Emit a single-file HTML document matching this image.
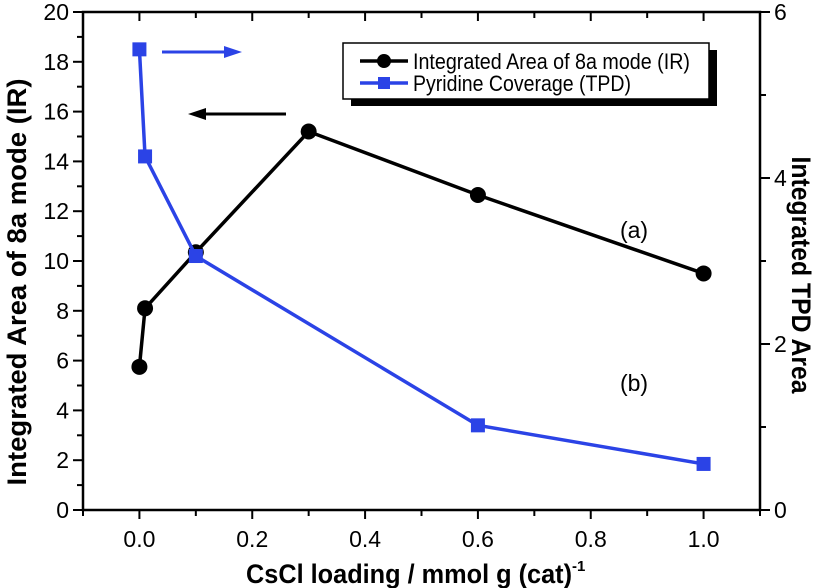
<!DOCTYPE html>
<html><head><meta charset="utf-8"><style>
body{margin:0;background:#fff}
svg{display:block;font-family:"Liberation Sans Narrow","Liberation Sans",sans-serif}
</style></head><body>
<svg id="chart" width="826" height="588" viewBox="0 0 826 588" xmlns="http://www.w3.org/2000/svg"></svg>
<script>
const xValues=[0,0.01,0.1,0.3,0.6,1.0];
const irValues=[5.75,8.1,10.35,15.2,12.65,9.5];
const tpdX=[0,0.01,0.1,0.6,1.0];
const tpdValues=[5.55,4.26,3.06,1.02,0.555];
const xTicks=[0.0,0.2,0.4,0.6,0.8,1.0];
const yLeftTicks=[0,2,4,6,8,10,12,14,16,18,20];
const yRightTicks=[0,2,4,6];

const L=83,R=760,T=12,B=510;
const X=v=>L+(v+0.1)/1.2*(R-L);
const YL=v=>B-v/20*(B-T);
const YR=v=>B-v/6*(B-T);
const svg=document.getElementById('chart');
const NS='http://www.w3.org/2000/svg';
function mk(tag,attrs,parent){const e=document.createElementNS(NS,tag);for(const k in attrs)e.setAttribute(k,attrs[k]);(parent||svg).appendChild(e);return e;}

const frame=mk('rect',{x:L,y:T,width:R-L,height:B-T,fill:'none',stroke:'#000','stroke-width':2.5});



for(let v=-0.1;v<=1.101;v+=0.1){
  const x=X(v);const major=Math.abs(Math.round(v*10)%2)===0;
  const t=mk('line',{x1:x,y1:B,x2:x,y2:B+(major?9:6),stroke:'#000','stroke-width':2});
  
  
  const t2=mk('line',{x1:x,y1:T,x2:x,y2:T+(major?9:6),stroke:'#000','stroke-width':2});
  
  
}
xTicks.forEach(v=>{
  const t=mk('text',{x:X(v),y:B+37,'text-anchor':'middle','font-size':23,textLength:32,lengthAdjust:'spacingAndGlyphs'});
  t.textContent=v.toFixed(1);
  
  
});
for(let v=0;v<=20;v++){
  const y=YL(v);const major=v%2===0;
  const t=mk('line',{x1:L,y1:y,x2:L-(major?10:6),y2:y,stroke:'#000','stroke-width':2});
  
  
}
yLeftTicks.forEach(v=>{
  const t=mk('text',{x:L-14,y:YL(v)+8,'text-anchor':'end','font-size':23});
  t.textContent=v;
  
  
});
for(let v=0;v<=6;v++){
  const y=YR(v);const major=v%2===0;
  const t=mk('line',{x1:R,y1:y,x2:R+(major?10:6),y2:y,stroke:'#000','stroke-width':2});
  
  
}
yRightTicks.forEach(v=>{
  const t=mk('text',{x:R+14,y:YR(v)+8,'text-anchor':'start','font-size':23});
  t.textContent=v;
  
  
});
let t=mk('text',{x:246,y:583,'font-size':27,'font-weight':'bold'});
t.innerHTML='<tspan textLength="326" lengthAdjust="spacingAndGlyphs">CsCl loading / mmol g (cat)</tspan><tspan dy="-12" font-size="15">-1</tspan>';


t=mk('text',{x:0,y:0,'text-anchor':'middle','font-size':27,'font-weight':'bold',textLength:407,lengthAdjust:'spacingAndGlyphs',transform:`translate(26,282) rotate(-90)`});
t.textContent='Integrated Area of 8a mode (IR)';


t=mk('text',{x:0,y:0,'text-anchor':'middle','font-size':27,'font-weight':'bold',textLength:237,lengthAdjust:'spacingAndGlyphs',transform:`translate(792,275) rotate(90)`});
t.textContent='Integrated TPD Area';



const irLine=mk('polyline',{points:xValues.map((x,i)=>X(x)+','+YL(irValues[i])).join(' '),fill:'none',stroke:'#000','stroke-width':3.5});


xValues.forEach((x,i)=>{
  const c=mk('circle',{cx:X(x),cy:YL(irValues[i]),r:8,fill:'#000'});
  
  
});
const tpdLine=mk('polyline',{points:tpdX.map((x,i)=>X(x)+','+YR(tpdValues[i])).join(' '),fill:'none',stroke:'#2b43e6','stroke-width':3.5});


tpdX.forEach((x,i)=>{
  const s=mk('rect',{x:X(x)-7,y:YR(tpdValues[i])-7,width:14,height:14,fill:'#2b43e6'});
  
  
});

let a=mk('line',{x1:162,y1:52,x2:228,y2:52,stroke:'#2b43e6','stroke-width':3});


a=mk('polygon',{points:'242,52 224,46 224,58',fill:'#2b43e6'});


a=mk('line',{x1:286,y1:114,x2:202,y2:114,stroke:'#000','stroke-width':3});


a=mk('polygon',{points:'188,114 206,108 206,120',fill:'#000'});



t=mk('text',{x:634,y:238,'text-anchor':'middle','font-size':23});t.textContent='(a)';


t=mk('text',{x:634,y:391,'text-anchor':'middle','font-size':23});t.textContent='(b)';



const g=mk('g',{});


mk('rect',{x:351,y:50,width:366,height:56,fill:'#000'},g);
mk('rect',{x:343,y:43,width:366,height:56,fill:'#fff',stroke:'#000','stroke-width':1.5},g);
mk('line',{x1:360,y1:61,x2:408,y2:61,stroke:'#000','stroke-width':3.5},g);
mk('circle',{cx:384,cy:61,r:7,fill:'#000'},g);
mk('line',{x1:360,y1:83,x2:408,y2:83,stroke:'#2b43e6','stroke-width':3.5},g);
mk('rect',{x:378,y:77,width:12,height:12,fill:'#2b43e6'},g);
t=mk('text',{x:413,y:69,'font-size':22,textLength:277,lengthAdjust:'spacingAndGlyphs'},g);t.textContent='Integrated Area of 8a mode (IR)';


t=mk('text',{x:413,y:91,'font-size':22,textLength:218,lengthAdjust:'spacingAndGlyphs'},g);t.textContent='Pyridine Coverage (TPD)';


</script>
</body></html>
